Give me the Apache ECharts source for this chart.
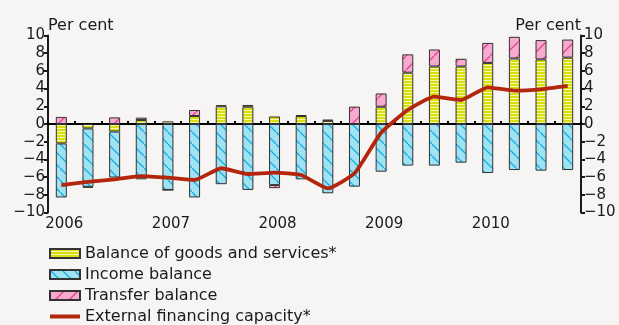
<!DOCTYPE html>
<html>
<head>
<meta charset="utf-8">
<script src="https://cdn.jsdelivr.net/npm/echarts@6/dist/echarts.min.js"></script>
<style>
  html, body { margin: 0; padding: 0; background: #f6f5f3; }
  #chart { width: 619px; height: 325px; }
</style>
</head>
<body>
<div id="chart"></div>
<script>
// quarters 2006 Q1 .. 2010 Q4
const quarters = [
  '2006Q1', '2006Q2', '2006Q3', '2006Q4',
  '2007Q1', '2007Q2', '2007Q3', '2007Q4',
  '2008Q1', '2008Q2', '2008Q3', '2008Q4',
  '2009Q1', '2009Q2', '2009Q3', '2009Q4',
  '2010Q1', '2010Q2', '2010Q3', '2010Q4'
];
const yearLabels = ['2006', '2007', '2008', '2009', '2010'];

const goods = [-2.2, -0.5, -0.85, 0.45, 0.3, 0.9, 2.0, 1.95, 0.85, 0.9, 0.35, 0.0, 1.95, 5.8, 6.5, 6.5, 6.9, 7.4, 7.3, 7.5];
const income = [-6.1, -6.6, -5.2, -6.25, -7.45, -8.3, -6.8, -7.45, -6.9, -6.25, -7.83, -7.08, -5.39, -4.7, -4.7, -4.37, -5.54, -5.2, -5.27, -5.2];
const transfer = [0.8, -0.1, 0.75, 0.27, 0.0, 0.68, 0.12, 0.2, -0.35, 0.1, 0.15, 1.96, 1.5, 2.07, 1.92, 0.87, 2.26, 2.45, 2.18, 2.04];
const financing = [-6.9, -6.55, -6.25, -5.88, -6.06, -6.33, -5.0, -5.65, -5.5, -5.76, -7.27, -5.57, -0.98, 1.58, 3.09, 2.71, 4.14, 3.77, 3.92, 4.3];

const yTicks = { min: -10, max: 10, interval: 2 };

function pattern(w, h, draw) {
  const c = document.createElement('canvas');
  c.width = w; c.height = h;
  draw(c.getContext('2d'));
  return { image: c, repeat: 'repeat' };
}

const goodsFill = pattern(4, 3, ctx => {
  ctx.fillStyle = '#d8df0a';
  ctx.fillRect(0, 0, 4, 3);
  ctx.fillStyle = '#f2f4b8';
  ctx.fillRect(0, 2, 4, 1);
});
const incomeFill = pattern(12, 12, ctx => {
  ctx.fillStyle = '#9fe2f4';
  ctx.fillRect(0, 0, 12, 12);
  ctx.strokeStyle = '#19aee0';
  ctx.lineWidth = 1.3;
  ctx.beginPath();
  ctx.moveTo(-1, -1); ctx.lineTo(13, 13);
  ctx.stroke();
});
const transferFill = pattern(14, 14, ctx => {
  ctx.fillStyle = '#f6aad0';
  ctx.fillRect(0, 0, 14, 14);
  ctx.strokeStyle = '#e3458a';
  ctx.lineWidth = 1.3;
  ctx.beginPath();
  ctx.moveTo(-1, 15); ctx.lineTo(15, -1);
  ctx.stroke();
});

const font = 'DejaVu Sans';
const ink = '#1a1a1a';
const lineRed = '#b3260d';

const chart = echarts.init(document.getElementById('chart'), null, { renderer: 'canvas' });

const yAxisBase = {
  type: 'value',
  ...yTicks,
  name: 'Per cent',
  nameLocation: 'end',
  nameGap: 2,
  nameMoveOverlap: false,
  axisLine: { show: true, lineStyle: { color: ink, width: 2 } },
  axisTick: { show: true, length: 4, lineStyle: { color: ink, width: 2 } },
  axisLabel: {
    color: ink, fontFamily: font, fontSize: 15, margin: 3,
    formatter: v => String(v).replace('-', '\u2212')
  },
  splitLine: { show: false }
};

chart.setOption({
  animation: false,
  backgroundColor: '#f6f5f3',
  grid: { left: 48, right: 38, top: 35.5, bottom: 112.5 },
  xAxis: [{
    type: 'category',
    data: quarters,
    position: 'bottom',
    axisLine: { show: false, onZero: false },
    axisTick: { show: false },
    axisLabel: {
      color: ink, fontFamily: font, fontSize: 15, margin: 4, interval: 0,
      padding: [0, 0, 0, 6],
      formatter: (v, i) => (i % 4 === 0 ? yearLabels[i / 4] : '')
    }
  }, {
    type: 'category',
    data: quarters,
    axisLine: { show: true, onZero: true, lineStyle: { color: '#000', width: 2 } },
    axisTick: { show: true, interval: 0, length: 3, lineStyle: { color: '#000', width: 2 } },
    axisLabel: { show: false }
  }],
  yAxis: [
    { ...yAxisBase, position: 'left',
      nameTextStyle: { color: ink, fontFamily: font, fontSize: 16, align: 'left', verticalAlign: 'bottom' } },
    { ...yAxisBase, position: 'right',
      nameTextStyle: { color: ink, fontFamily: font, fontSize: 16, align: 'right', verticalAlign: 'bottom' } }
  ],
  legend: {
    orient: 'vertical',
    left: 48,
    top: 245,
    padding: 0,
    itemWidth: 30,
    itemHeight: 9,
    itemGap: 4,
    textStyle: { color: ink, fontFamily: font, fontSize: 16, lineHeight: 17 },
    data: [
      { name: 'Balance of goods and services*', icon: 'rect' },
      { name: 'Income balance', icon: 'rect' },
      { name: 'Transfer balance', icon: 'rect' },
      { name: 'External financing capacity*', itemStyle: { opacity: 0 }, lineStyle: { width: 4, color: lineRed } }
    ]
  },
  series: [
    { name: 'Balance of goods and services*', type: 'bar', stack: 'ca', barWidth: 11,
      data: goods, itemStyle: { color: goodsFill, borderColor: '#333', borderWidth: 1 } },
    { name: 'Income balance', type: 'bar', stack: 'ca', barWidth: 11,
      data: income, itemStyle: { color: incomeFill, borderColor: '#333', borderWidth: 1 } },
    { name: 'Transfer balance', type: 'bar', stack: 'ca', barWidth: 11,
      data: transfer, itemStyle: { color: transferFill, borderColor: '#333', borderWidth: 1 } },
    { name: 'External financing capacity*', type: 'line', data: financing,
      symbol: 'none', smooth: 0.15, z: 5,
      lineStyle: { color: lineRed, width: 3.8 }, itemStyle: { color: lineRed } }
  ]
});
</script>
</body>
</html>
